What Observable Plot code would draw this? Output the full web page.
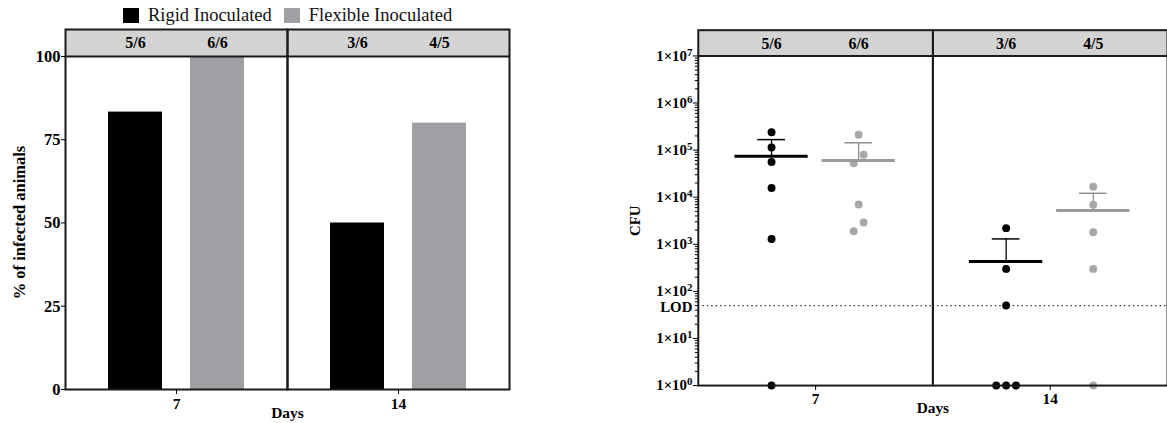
<!DOCTYPE html>
<html><head><meta charset="utf-8">
<script src="https://cdn.jsdelivr.net/npm/d3@7"></script>
<script src="https://cdn.jsdelivr.net/npm/@observablehq/plot@0.6"></script>
<style>
body{margin:0;background:#fff;}
#wrap{position:relative;width:1167px;height:423px;overflow:hidden;font-family:"Liberation Serif","Times New Roman",serif;}
#left{position:absolute;left:0;top:0;}
#right{position:absolute;left:580px;top:0;}
#legend{position:absolute;left:123px;top:5px;display:flex;align-items:center;font-size:18.5px;color:#111;line-height:20px;}
#legend .sw{width:16px;height:15px;display:inline-block;margin-right:9px;}
#legend .item{display:flex;align-items:center;margin-right:12px;}
</style></head>
<body><div id="wrap"><div id="left"></div><div id="right"></div><div id="legend"></div></div>
<script>
// ---------- data ----------
const days = ["7", "14"];
const groups = ["Rigid Inoculated", "Flexible Inoculated"];
const groupColors = ["#000000", "#a09fa4"];
const dotColors = ["#000000", "#a8a8a8"];
// % of infected animals, order: day7 rigid, day7 flexible, day14 rigid, day14 flexible
const pctInfected = [83.3, 100, 50, 80];
const infectedLabels = ["5/6", "6/6", "3/6", "4/5"];
const pctTicks = [0, 25, 50, 75, 100];

// CFU individual animals
const cfuDay =   ["7","7","7","7","7","7", "7","7","7","7","7","7", "14","14","14","14","14","14", "14","14","14","14","14"];
const cfuGroup = [0,0,0,0,0,0, 1,1,1,1,1,1, 0,0,0,0,0,0, 1,1,1,1,1];
const cfuValue = [240000,114000,56000,15700,1300,1, 213000,80000,52500,7000,2900,1900, 2200,300,50,1,1,1, 16700,6900,1800,300,1];
const cfuSlot =  [0,0,0,0,0,0, 0,1,-1,0,1,-1, 0,0,0,-2,0,2, 0,0,0,0,0];
// mean and mean+SEM per group, order: day7 rigid, day7 flexible, day14 rigid, day14 flexible
const cfuMean = [74000, 60000, 430, 5200];
const cfuUpper = [167000, 143000, 1300, 12100];
const lod = 50;
const cfuTicks = [1, 1e1, 1e2, 1e3, 1e4, 1e5, 1e6, 1e7];

// ---------- tables ----------
const cells = days.flatMap((d, i) => groups.map((g, j) => ({day: d, group: g, k: i * 2 + j})));
const barData = cells.map(c => ({...c, pct: pctInfected[c.k], label: infectedLabels[c.k], mean: cfuMean[c.k], upper: cfuUpper[c.k]}));
const pts = cfuValue.map((v, i) => ({day: cfuDay[i], group: groups[cfuGroup[i]], value: v, slot: cfuSlot[i]}));
const minorTicks = [];
for (let e = 0; e < 7; e++) for (let m = 2; m <= 9; m++) minorTicks.push(m * 10 ** e);

const font = "'Liberation Serif','Times New Roman',serif";
const frameColor = "#1a1a1a";
const headerFill = "#d3d3d3";

// ---------- left chart ----------
const pctTop = 108.1;
const left = Plot.plot({
  width: 580, height: 423,
  marginLeft: 65, marginRight: 71, marginTop: 29, marginBottom: 34,
  style: {fontFamily: font, fontSize: "16px", fontWeight: "bold", color: "#000", background: "transparent"},
  fx: {domain: days, padding: 0},
  x: {domain: groups, paddingInner: 0.337, paddingOuter: 0.506, axis: null},
  y: {domain: [0, pctTop]},
  color: {domain: groups, range: groupColors},
  marks: [
    Plot.rect([0], {y1: pctTicks[pctTicks.length - 1], y2: pctTop, fill: headerFill}),
    Plot.barY(barData, {fx: "day", x: "group", y: "pct", fill: "group"}),
    Plot.text(barData, {fx: "day", x: "group", y: (pctTicks[4] + pctTop) / 2, text: "label", fontSize: 16}),
    Plot.ruleY([pctTicks[pctTicks.length - 1]], {stroke: frameColor, strokeWidth: 2}),
    Plot.frame({stroke: frameColor, strokeWidth: 2}),
    Plot.axisY({ticks: pctTicks, tickSize: 4, tickPadding: 1, label: "% of infected animals", labelAnchor: "center", labelOffset: 52, labelArrow: "none", fontSize: 16.5}),
    Plot.axisFx({anchor: "bottom", tickSize: 5, tickPadding: 3, fontSize: 15.5, label: "Days", labelAnchor: "center", labelOffset: 28, labelArrow: "none"})
  ]
});
document.getElementById("left").append(left);

// ---------- right chart ----------
const cfuTop = 3.52e7;
const marks = [
  Plot.rect([0], {y1: cfuTicks[cfuTicks.length - 1], y2: cfuTop, fill: headerFill}),
  Plot.ruleY([lod], {stroke: "#333", strokeWidth: 1.3, strokeDasharray: "1.5,3"}),
  Plot.text(barData, {fx: "day", x: "group", y: Math.sqrt(cfuTicks[7] * cfuTop) * 0.95, text: "label", fontSize: 16}),
  Plot.ruleX(barData, {fx: "day", x: "group", y1: "mean", y2: "upper", stroke: "group", strokeWidth: 1.3}),
  Plot.tickY(barData, {fx: "day", x: "group", y: "upper", stroke: "group", strokeWidth: 1.5, insetLeft: 23, insetRight: 23})
];
for (const s of [-2, -1, 0, 1, 2]) {
  marks.push(Plot.dot(pts.filter(d => d.slot === s), {fx: "day", x: "group", y: "value", r: 4, fill: d => dotColors[groups.indexOf(d.group)], dx: s * 5}));
}
marks.push(
  Plot.tickY(barData, {fx: "day", x: "group", y: "mean", stroke: d => groups.indexOf(d.group) ? "#9a9a9a" : "#000", strokeWidth: 3}),
  Plot.ruleY([cfuTicks[cfuTicks.length - 1]], {stroke: frameColor, strokeWidth: 2}),
  Plot.frame({stroke: frameColor, strokeWidth: 2}),
  Plot.axisY({ticks: minorTicks, tickSize: 3, tickFormat: () => "", label: null}),
  Plot.axisY({ticks: cfuTicks, tickSize: 5, tickPadding: 1, tickFormat: d => "1×10^" + Math.round(Math.log10(d)), label: "CFU", labelAnchor: "center", labelOffset: 70, labelArrow: "none", fontSize: 15}),
  Plot.text([lod], {fx: () => days[0], y: d => d, text: () => "LOD", frameAnchor: "left", textAnchor: "end", dx: -6, dy: 2, fontSize: 15}),
  Plot.axisFx({anchor: "bottom", tickSize: 5, tickPadding: 3, fontSize: 15.5, label: "Days", labelAnchor: "center", labelOffset: 28, labelArrow: "none"})
);
const right = Plot.plot({
  width: 593, height: 423,
  marginLeft: 119, marginRight: 0, marginTop: 30, marginBottom: 34,
  style: {fontFamily: font, fontSize: "16px", fontWeight: "bold", color: "#000", background: "transparent"},
  fx: {domain: days, padding: 0},
  x: {domain: groups, paddingInner: 0.159, paddingOuter: 0.426, axis: null},
  y: {type: "log", domain: [1, cfuTop]},
  color: {domain: groups, range: ["#000000", "#8f8f8f"]},
  marks
});
document.getElementById("right").append(right);

// superscript exponents as real tspans
d3.select(right).selectAll("text").each(function () {
  const m = (this.textContent || "").match(/^1×10\^(\d+)$/);
  if (!m) return;
  const t = d3.select(this);
  t.text("1×10");
  t.append("tspan").attr("dy", "-0.45em").attr("font-size", "11px").text(m[1]);
});
// center y-axis labels on the plotting area below the header band
for (const svg of [left, right]) {
  d3.select(svg).selectAll('g[aria-label="y-axis label"]').each(function () {
    const prev = this.getAttribute("transform") || "";
    this.setAttribute("transform", ("translate(0,13) " + prev).trim());
  });
}

// ---------- legend ----------
const lg = document.getElementById("legend");
groups.forEach((g, i) => {
  const it = document.createElement("span"); it.className = "item";
  const sw = document.createElement("span"); sw.className = "sw"; sw.style.background = groupColors[i];
  it.append(sw, document.createTextNode(g));
  lg.append(it);
});
</script></body></html>
